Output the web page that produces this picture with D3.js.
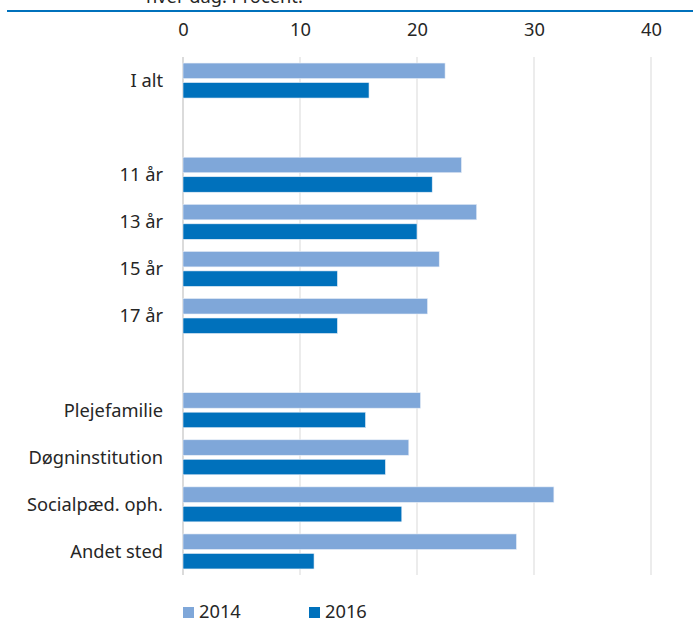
<!DOCTYPE html>
<html>
<head>
<meta charset="utf-8">
<script src="https://cdn.jsdelivr.net/npm/d3@7"></script>
<style>
  html, body { margin: 0; padding: 0; background: #fff; }
  svg { display: block; font-family: "Noto Sans", "Open Sans", sans-serif; }
</style>
</head>
<body>
<svg id="chart" width="693" height="622"></svg>
<script>
const categories = ["I alt", "", "11 år", "13 år", "15 år", "17 år", " ", "Plejefamilie", "Døgninstitution", "Socialpæd. oph.", "Andet sted"];
const seriesNames = ["2014", "2016"];
const values2014 = [22.4, null, 23.8, 25.1, 21.9, 20.9, null, 20.3, 19.3, 31.7, 28.5];
const values2016 = [15.9, null, 21.3, 20.0, 13.2, 13.2, null, 15.6, 17.3, 18.7, 11.2];
const tickValues = [0, 10, 20, 30, 40];
const colors = ["#7fa7d9", "#0071bc"];
const titleText = "hver dag. Procent.";

const svg = d3.select("#chart");
const textColor = "#262626";
const fs = 18.3;

// title fragment (cut off at top) and rule
svg.append("text").attr("x", 146).attr("y", 3).attr("font-size", fs).attr("fill", textColor).text(titleText);
svg.append("line").attr("x1", 7).attr("x2", 693).attr("y1", 11).attr("y2", 11).attr("stroke", "#0071bc").attr("stroke-width", 2);

const x = d3.scaleLinear().domain([0, 40]).range([183, 651]);
const y = d3.scaleBand().domain(d3.range(categories.length)).range([57, 575]).paddingInner(0).paddingOuter(0);

// gridlines
svg.append("g").selectAll("line").data(tickValues).join("line")
  .attr("x1", d => x(d)).attr("x2", d => x(d))
  .attr("y1", 57).attr("y2", 575)
  .attr("stroke", d => d === 0 ? "#cfcfcf" : "#d9d9d9").attr("stroke-width", d => d === 0 ? 1.5 : 1);

// top axis labels
const axis = d3.axisTop(x).tickValues(tickValues).tickSize(0).tickPadding(0);
const gAxis = svg.append("g").attr("transform", "translate(0,36)").call(axis);
gAxis.select(".domain").remove();
gAxis.selectAll("text").attr("font-size", fs).attr("fill", textColor).attr("font-family", "Noto Sans");

// bars
const barH = 15.5, gap = 4;
const rows = categories.map((c, i) => ({ c, i, v: [values2014[i], values2016[i]] }));
const groups = svg.append("g").selectAll("g").data(rows.filter(r => r.v[0] != null)).join("g")
  .attr("transform", d => `translate(0,${y(d.i) + y.bandwidth() / 2})`);
groups.selectAll("rect").data(d => d.v.map((v, k) => ({ v, k }))).join("rect")
  .attr("x", x(0))
  .attr("y", d => d.k === 0 ? -(barH + gap / 2) : gap / 2)
  .attr("width", d => x(d.v) - x(0))
  .attr("height", barH)
  .attr("fill", d => colors[d.k])
  .attr("stroke", "#e8eef7").attr("stroke-width", 0.6);

// category labels
svg.append("g").selectAll("text").data(rows.filter(r => r.c.trim() !== "")).join("text")
  .attr("x", 163).attr("y", d => y(d.i) + y.bandwidth() / 2)
  .attr("dy", "0.35em").attr("text-anchor", "end")
  .attr("font-size", fs).attr("fill", textColor).text(d => d.c);

// legend
const leg = svg.append("g").selectAll("g").data(seriesNames).join("g")
  .attr("transform", (d, i) => `translate(${183 + i * 126},607)`);
leg.append("rect").attr("width", 11).attr("height", 11).attr("fill", (d, i) => colors[i]);
leg.append("text").attr("x", 16).attr("y", 11).attr("font-size", fs).attr("fill", textColor).text(d => d);
</script>
</body>
</html>
